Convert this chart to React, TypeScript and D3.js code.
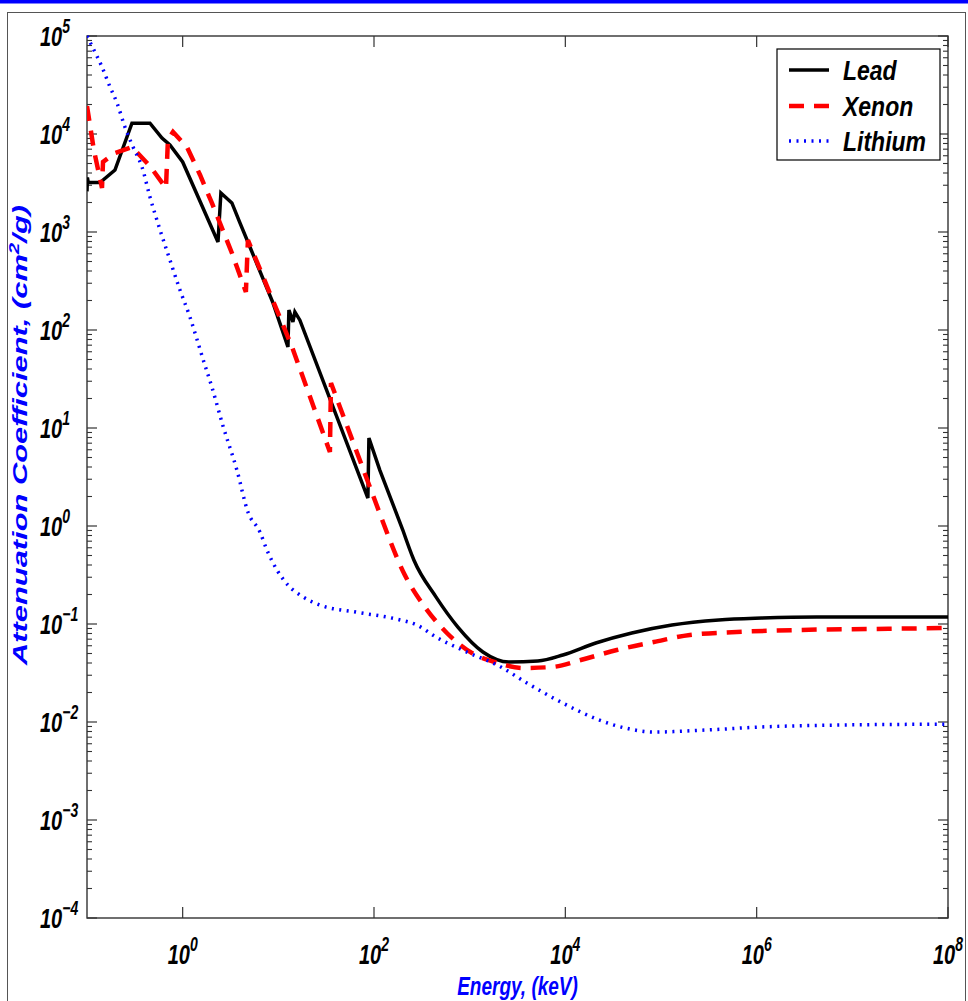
import React from "react";
import * as d3 from "d3";

// ---- data (energy in keV, mass attenuation coefficient in cm^2/g) ----
const leadEnergy = [0.1, 0.101, 0.103, 0.137, 0.196, 0.295, 0.455, 0.608, 0.736, 1.0, 2.34, 2.51, 3.27, 3.97, 5.05, 8.79, 12.6, 12.9, 14.2, 14.9, 16.8, 86.3, 88.5, 115, 200, 261, 444, 753, 1375, 2570, 5160, 9420, 20800, 49500, 130000, 402000, 1.13e6, 4.25e6, 1e8];
const leadMu = [2600, 3600, 3200, 3200, 4290, 12900, 12900, 9100, 7730, 5180, 791, 2500, 1980, 1240, 703, 189, 67.2, 160, 121, 153, 126, 1.93, 7.9, 3.72, 0.91, 0.45, 0.189, 0.093, 0.0518, 0.0409, 0.0419, 0.0483, 0.064, 0.081, 0.0977, 0.11, 0.115, 0.118, 0.118];

const xenonEnergy = [0.1, 0.118, 0.1435, 0.147, 0.196, 0.295, 0.455, 0.669, 0.701, 0.793, 1.11, 1.52, 2.02, 3.27, 4.58, 4.81, 13.9, 34.6, 35.5, 124, 210, 340, 578, 1054, 1970, 3600, 7230, 14500, 34500, 84100, 200000, 620000, 2.75e6, 1.56e7, 1e8];
const xenonMu = [19300, 6870, 2810, 5180, 6400, 7360, 4710, 2810, 8690, 10500, 7360, 3820, 1980, 611, 244, 828, 67.2, 5.69, 28.8, 1.1, 0.316, 0.149, 0.081, 0.0506, 0.04, 0.0356, 0.0364, 0.0429, 0.0543, 0.0655, 0.0773, 0.0828, 0.0869, 0.089, 0.091];

const lithiumEnergy = [0.1, 0.1155, 0.1435, 0.174, 0.206, 0.249, 0.303, 0.376, 0.455, 0.58, 0.736, 0.937, 1.19, 1.45, 1.63, 2.02, 2.64, 3.69, 4.81, 6.42, 7.6, 9.67, 12.6, 18.1, 27.2, 66.2, 173, 281, 444, 838, 2120, 3960, 9420, 22400, 41900, 84100, 308000, 1.13e6, 6.55e6, 1e8];
const lithiumMu = [1e5, 75400, 48300, 30200, 20700, 11800, 7360, 4600, 2280, 1050, 518, 256, 136, 73.6, 50.6, 26.2, 10.5, 3.72, 1.39, 0.869, 0.569, 0.356, 0.25, 0.189, 0.156, 0.132, 0.112, 0.0977, 0.0736, 0.0543, 0.0364, 0.025, 0.0156, 0.0105, 0.0087, 0.0079, 0.0083, 0.0089, 0.0093, 0.0095];

// energies above which each curve is smooth (no absorption edges)
const smoothFromEnergy = [200, 124, 0.1];

const xTickPowers = [0, 2, 4, 6, 8];
const yTickPowers = [-4, -3, -2, -1, 0, 1, 2, 3, 4, 5];
const seriesNames = ["Lead", "Xenon", "Lithium"];
const seriesColors = ["#000000", "#ff0000", "#0000ff"];

const FONT = "'Liberation Sans', Arial, Helvetica, sans-serif";

function sup(p: number) {
  return p < 0 ? "\u2212" + Math.abs(p) : String(p);
}

export default function App() {
  const W = 968;
  const H = 1001;
  const L = 87, R = 948, T = 36, B = 918;
  const x = d3.scaleLog().domain([1e-1, 1e8]).range([L, R]);
  const y = d3.scaleLog().domain([1e-4, 1e5]).range([B, T]);
  const lineLinear = d3
    .line<[number, number]>()
    .x((d) => x(d[0]))
    .y((d) => y(d[1]));
  const lineSmooth = d3
    .line<[number, number]>()
    .x((d) => x(d[0]))
    .y((d) => y(d[1]))
    .curve(d3.curveMonotoneX);

  const series = [
    { name: seriesNames[0], e: leadEnergy, m: leadMu, color: seriesColors[0], width: 3.5, dash: undefined as string | undefined },
    { name: seriesNames[1], e: xenonEnergy, m: xenonMu, color: seriesColors[1], width: 4.5, dash: "15,10" },
    { name: seriesNames[2], e: lithiumEnergy, m: lithiumMu, color: seriesColors[2], width: 3.5, dash: "2,5.5" },
  ];

  const pathFor = (e: number[], m: number[], split: number) => {
    const pts = e.map((v, i) => [v, m[i]] as [number, number]);
    const a = pts.filter((p) => p[0] <= split);
    const b = pts.filter((p) => p[0] >= split);
    let d = "";
    if (a.length > 1) d += lineLinear(a) || "";
    if (b.length > 1) {
      const sd = lineSmooth(b) || "";
      d += a.length > 1 ? "L" + sd.slice(1).replace(/^[^CL]*/, (s) => s) : sd;
    }
    return d;
  };

  const minorY: number[] = [];
  for (let p = -4; p < 5; p++) {
    for (let k = 2; k <= 9; k++) minorY.push(k * Math.pow(10, p));
  }

  const axisColor = "#333";

  return (
    <div style={{ position: "absolute", left: 0, top: 0, width: W, height: H }}>
      <svg width={W} height={H} style={{ display: "block", background: "#fff" }}>
        <defs>
          <clipPath id="plotClip">
            <rect x={L} y={T - 2} width={R - L} height={B - T + 2} />
          </clipPath>
        </defs>
        {/* top blue bar */}
        <rect x={0} y={0} width={W} height={3.5} fill="#0000ff" />
        {/* outer frame */}
        <rect x={7.5} y={12.5} width={958} height={1000} fill="none" stroke="#555" strokeWidth={1} />

        {/* plot box */}
        <rect x={L} y={T} width={R - L} height={B - T} fill="none" stroke={axisColor} strokeWidth={1.4} />

        {/* y ticks */}
        {yTickPowers.map((p) => {
          const yy = y(Math.pow(10, p));
          return (
            <g key={"yt" + p}>
              <line x1={L} x2={L + 10} y1={yy} y2={yy} stroke={axisColor} strokeWidth={1.2} />
              <line x1={R} x2={R - 10} y1={yy} y2={yy} stroke={axisColor} strokeWidth={1.2} />
            </g>
          );
        })}
        {minorY.map((v, i) => {
          const yy = y(v);
          return (
            <g key={"ym" + i}>
              <line x1={L} x2={L + 5} y1={yy} y2={yy} stroke={axisColor} strokeWidth={1.1} />
              <line x1={R} x2={R - 5} y1={yy} y2={yy} stroke={axisColor} strokeWidth={1.1} />
            </g>
          );
        })}
        {/* x ticks */}
        {xTickPowers.map((p) => {
          const xx = x(Math.pow(10, p));
          return (
            <g key={"xt" + p}>
              <line x1={xx} x2={xx} y1={B} y2={B - 11} stroke={axisColor} strokeWidth={1.2} />
              <line x1={xx} x2={xx} y1={T} y2={T + 11} stroke={axisColor} strokeWidth={1.2} />
            </g>
          );
        })}

        {/* y tick labels */}
        {yTickPowers.map((p) => {
          const yy = y(Math.pow(10, p));
          return (
            <text
              key={"yl" + p}
              transform={`translate(40,${yy + 10}) scale(1,1.4)`}
              fontFamily={FONT}
              fontWeight="bold"
              fontStyle="italic"
              fontSize={20}
              fill="#000"
            >
              <tspan>10</tspan>
              <tspan dy={-9.5} fontSize={14}>{sup(p)}</tspan>
            </text>
          );
        })}

        {/* x tick labels */}
        {xTickPowers.map((p) => {
          const xx = x(Math.pow(10, p));
          return (
            <text
              key={"xl" + p}
              transform={`translate(${xx},${964}) scale(1,1.4)`}
              textAnchor="middle"
              fontFamily={FONT}
              fontWeight="bold"
              fontStyle="italic"
              fontSize={20}
              fill="#000"
            >
              <tspan>10</tspan>
              <tspan dy={-9.5} fontSize={14}>{sup(p)}</tspan>
            </text>
          );
        })}

        {/* axis labels */}
        <text
          transform={`translate(${(L + R) / 2},995) scale(1,1.4)`}
          textAnchor="middle"
          fontFamily={FONT}
          fontWeight="bold"
          fontStyle="italic"
          fontSize={19}
          fill="#0000ff"
        >
          Energy, (keV)
        </text>
        <text
          transform={`translate(27,435) rotate(-90) scale(1.47,1)`}
          textAnchor="middle"
          fontFamily={FONT}
          fontWeight="bold"
          fontStyle="italic"
          fontSize={21}
          fill="#0000ff"
        >
          <tspan>Attenuation Coefficient, (cm</tspan>
          <tspan dy={-8} fontSize={14}>2</tspan>
          <tspan dy={8}>/g)</tspan>
        </text>

        {/* series */}
        <g clipPath="url(#plotClip)">
          {series.map((s, i) => (
            <path
              key={s.name}
              d={pathFor(s.e, s.m, smoothFromEnergy[i])}
              fill="none"
              stroke={s.color}
              strokeWidth={s.width}
              strokeDasharray={s.dash}
              strokeLinejoin="miter"
              strokeMiterlimit={3}
            />
          ))}
        </g>

        {/* legend */}
        <rect x={777} y={49} width={163} height={111} fill="#fff" stroke="#000" strokeWidth={1.2} />
        {series.map((s, i) => {
          const ly = [70, 106, 141][i];
          return (
            <g key={"lg" + s.name}>
              <line x1={789} x2={829} y1={ly} y2={ly} stroke={s.color} strokeWidth={s.width} strokeDasharray={s.dash} />
              <text
                transform={`translate(843,${ly + 10}) scale(1,1.2)`}
                fontFamily={FONT}
                fontWeight="bold"
                fontStyle="italic"
                fontSize={23}
                fill="#000"
              >
                {s.name}
              </text>
            </g>
          );
        })}
      </svg>
    </div>
  );
}
